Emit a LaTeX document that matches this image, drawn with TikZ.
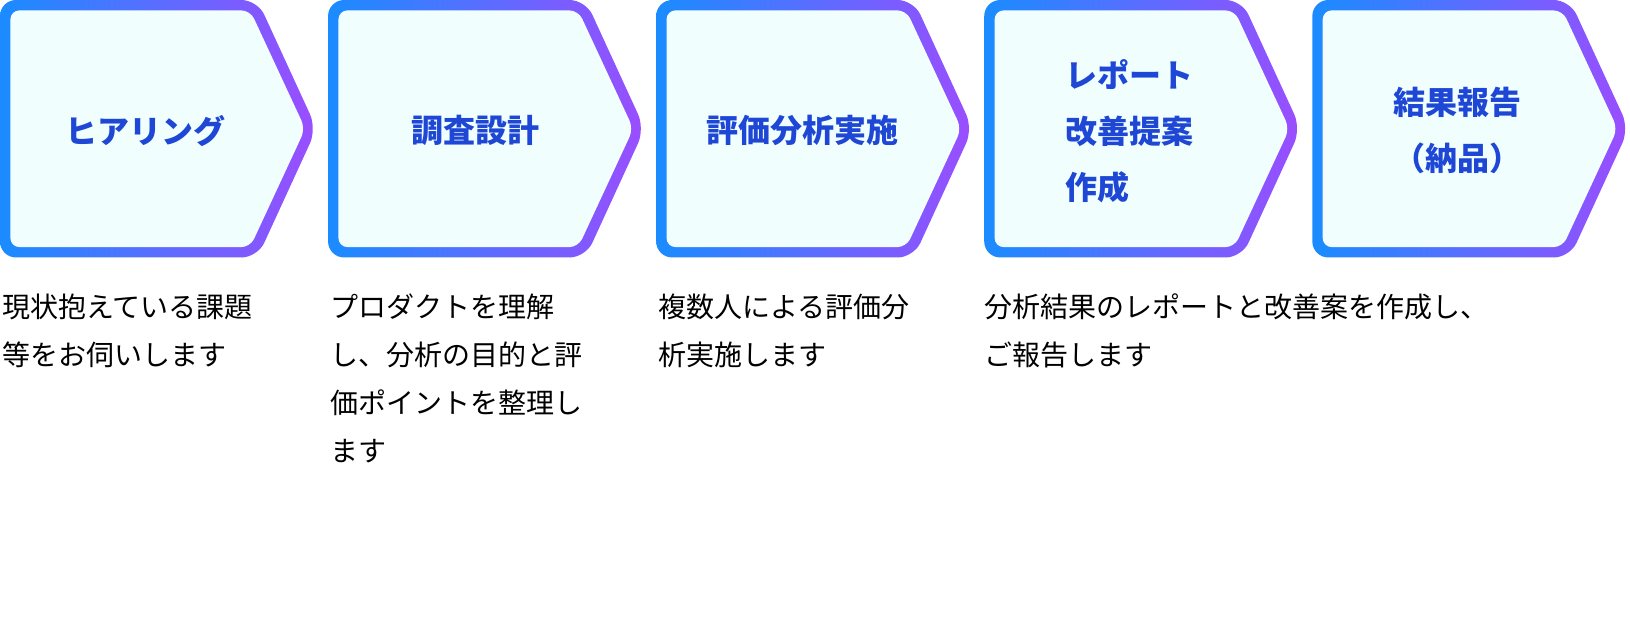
\documentclass[tikz,border=0pt]{standalone}
\usepackage{fontspec}
\newfontfamily\cjk{Noto Sans CJK JP}
\definecolor{gblue}{HTML}{1A8CFF}
\definecolor{gpurp}{HTML}{9B4DFF}
\definecolor{boxfill}{HTML}{F0FFFE}
\definecolor{ttl}{HTML}{1F47D6}
\tikzset{
 ttlnode/.style={font=\cjk\bfseries\fontsize{32}{56}\selectfont, text=ttl, align=center},
 descnode/.style={font=\cjk\fontsize{28}{48}\selectfont, text=black, align=left, anchor=north west, inner sep=0pt},
}
\newcommand{\stepshape}[1]{%
 \begin{scope}[xshift=#1]
  \shade[left color=gblue,right color=gpurp,rounded corners=16pt] (0,0) -- (248,0) -- (305,124) -- (248,248) -- (0,248) -- cycle;
  \fill[boxfill,rounded corners=9pt] (10,10) -- (241,10) -- (294,124) -- (241,238) -- (10,238) -- cycle;
 \end{scope}}
\begin{document}
\begin{tikzpicture}[x=1.038pt,y=-1.038pt]
\stepshape{1.038*0}\stepshape{1.038*316}\stepshape{1.038*632}\stepshape{1.038*948}\stepshape{1.038*1264}
\node[ttlnode] (t1) at (140,126) {ヒアリング};
\node[ttlnode] (t2) at (458,126) {調査設計};
\node[ttlnode] (t3) at (773,126) {評価分析実施};
\node[ttlnode, align=left] (t4) at (1088,126) {レポート\\改善提案\\作成};
\node[ttlnode] (t5) at (1404,126) {結果報告\\（納品）};
\node[descnode] (d1) at (2,283) {現状抱えている課題\\等をお伺いします};
\node[descnode] (d2) at (318,283) {プロダクトを理解\\し、分析の目的と評\\価ポイントを整理し\\ます};
\node[descnode] (d3) at (634,283) {複数人による評価分\\析実施します};
\node[descnode] (d4) at (948,283) {分析結果のレポートと改善案を作成し、\\ご報告します};
\pgfresetboundingbox
\path[use as bounding box] (0,0) rectangle (1570,595);
\end{tikzpicture}
\end{document}
